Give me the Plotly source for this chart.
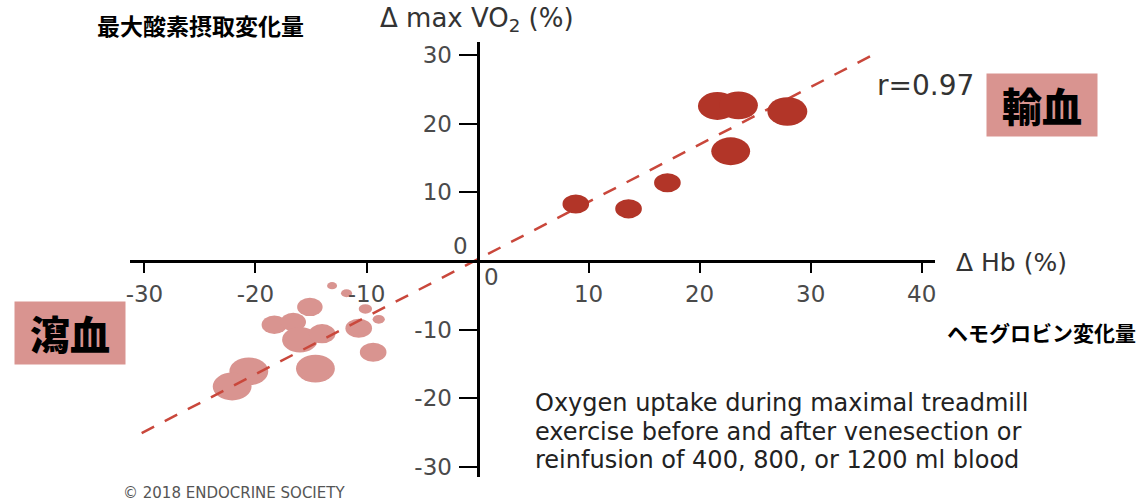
import plotly.graph_objects as go

# ---------------- data ----------------
# Phlebotomy (瀉血) – pale bubbles: ΔHb (%), ΔmaxVO2 (%), bubble diameter (ΔHb units)
pale_x = [-13.1, -11.8, -15.1, -10.1, -8.9, -18.3, -16.6, -16.0, -14.0, -10.7, -9.4, -14.6, -20.6, -22.1]
pale_y = [-3.6, -4.7, -6.7, -7.0, -8.5, -9.3, -8.9, -11.5, -10.6, -9.8, -13.3, -15.7, -16.1, -18.3]
pale_s = [0.9, 1.0, 2.3, 1.2, 1.1, 2.3, 2.3, 3.2, 2.4, 2.4, 2.4, 3.5, 3.5, 3.5]

# Transfusion (輸血) – dark bubbles
dark_x = [8.85, 13.6, 17.1, 22.8, 21.6, 23.5, 27.9]
dark_y = [8.3, 7.6, 11.4, 16.0, 22.6, 22.7, 21.8]
dark_s = [2.4, 2.4, 2.4, 3.5, 3.5, 3.5, 3.6]

# regression line end points
fit_x = [-30.25, 35.9]
fit_y = [-25.1, 30.3]

x_ticks = [-30, -20, -10, 10, 20, 30, 40]
y_ticks = [-30, -20, -10, 10, 20, 30]

caption_lines = [
    "Oxygen uptake during maximal treadmill",
    "exercise before and after venesection or",
    "reinfusion of 400, 800, or 1200 ml blood",
]

# ---------------- style ----------------
DARK = "#b23528"
PALE = "#d99490"
LINE = "#c9473b"
TICK_GRAY = "#4a4a4a"
LATIN = "DejaVu Sans"
CJK = "Noto Sans CJK JP"
ASPECT = 1.16  # y-extent / x-extent of bubbles in data units

W, H = 1141, 502
ML, MR, MT, MB = 130, 206, 42, 25
XR = [-31.3, 41.2]
YR = [-31.5, 31.93]

fig = go.Figure()

fig.add_trace(go.Scatter(
    x=fit_x, y=fit_y, mode="lines",
    line=dict(color=LINE, width=2.5, dash="14px,12px"),
    hoverinfo="skip", showlegend=False,
))

shapes = []
for x, y, s in zip(pale_x, pale_y, pale_s):
    shapes.append(dict(type="circle", xref="x", yref="y",
                       x0=x - s / 2, x1=x + s / 2,
                       y0=y - s * ASPECT / 2, y1=y + s * ASPECT / 2,
                       fillcolor=PALE, line=dict(width=0), layer="below"))
for x, y, s in zip(dark_x, dark_y, dark_s):
    shapes.append(dict(type="circle", xref="x", yref="y",
                       x0=x - s / 2, x1=x + s / 2,
                       y0=y - s * ASPECT / 2, y1=y + s * ASPECT / 2,
                       fillcolor=DARK, line=dict(width=0), layer="above"))


def px2paper(px, py):
    return (px - ML) / (W - ML - MR), (H - MB - py) / (H - MT - MB)


annotations = []


def add_text(text, px, py, size, color="#333333", family=LATIN, xanchor="center",
             weight="normal", **kw):
    x, y = px2paper(px, py)
    annotations.append(dict(text=text, x=x, y=y, xref="paper", yref="paper",
                             xanchor=xanchor, yanchor="middle", showarrow=False,
                             font=dict(size=size, color=color, family=family, weight=weight),
                             **kw))


add_text("最大酸素摂取変化量", 200, 25, 23, color="#000000", family=CJK, weight="bold")
add_text("Δ max VO<sub>2</sub> (%)", 477, 19, 26)
add_text("Δ Hb (%)", 1011, 262, 25)
add_text("ヘモグロビン変化量", 1041, 332, 21, color="#000000", family=CJK, weight="bold")
add_text("r=0.97", 925, 85, 28)
add_text("0", 460, 246, 23, color=TICK_GRAY)
add_text("0", 491, 277, 23, color=TICK_GRAY)
add_text("輸血", 1042, 105, 40, color="#000000", family=CJK, weight=900,
         bgcolor=PALE, width=106, height=58, borderpad=2)
add_text("瀉血", 70, 333, 40, color="#000000", family=CJK, weight=900,
         bgcolor=PALE, width=106, height=58, borderpad=2)
for i, line in enumerate(caption_lines):
    add_text(line, 533, 403 + i * 28.5, 24, color="#222222", xanchor="left")
add_text("© 2018 ENDOCRINE SOCIETY", 234, 493, 15, color="#555555")

fig.update_layout(
    width=W, height=H,
    margin=dict(l=ML, r=MR, t=MT, b=MB, pad=0),
    paper_bgcolor="white", plot_bgcolor="white",
    showlegend=False,
    shapes=shapes,
    annotations=annotations,
    xaxis=dict(
        range=XR, anchor="free", position=(0 - YR[0]) / (YR[1] - YR[0]),
        showline=True, linecolor="black", linewidth=3,
        showgrid=False, zeroline=False,
        tickmode="array", tickvals=x_ticks, ticktext=[str(v) for v in x_ticks],
        ticks="outside", ticklen=10, tickwidth=2, tickcolor="black",
        ticklabelstandoff=1,
        tickfont=dict(size=23, color=TICK_GRAY, family=LATIN),
        fixedrange=True,
    ),
    yaxis=dict(
        range=YR, anchor="free", position=(0 - XR[0]) / (XR[1] - XR[0]),
        showline=True, linecolor="black", linewidth=3,
        showgrid=False, zeroline=False,
        tickmode="array", tickvals=y_ticks, ticktext=[str(v) for v in y_ticks],
        ticks="outside", ticklen=18, tickwidth=2, tickcolor="black",
        ticklabelstandoff=2,
        tickfont=dict(size=23, color=TICK_GRAY, family=LATIN),
        fixedrange=True,
    ),
)

fig.write_html("out.html")
